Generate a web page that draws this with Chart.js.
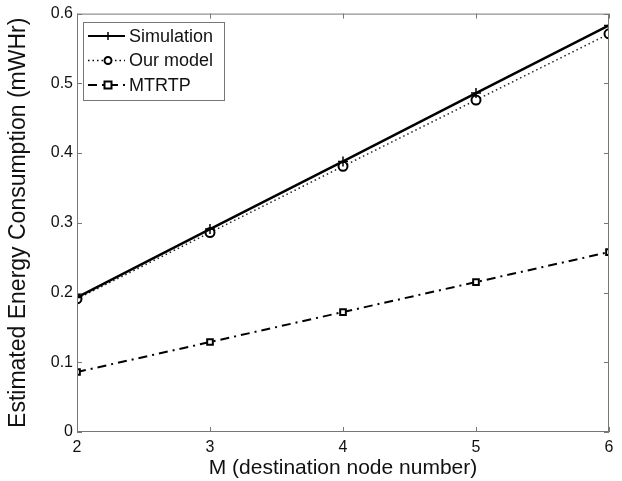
<!DOCTYPE html>
<html>
<head>
<meta charset="utf-8">
<script src="https://cdn.jsdelivr.net/npm/chart.js@4"></script>
<style>
  html, body { margin: 0; padding: 0; background: #fff; }
  #wrap { width: 622px; height: 481px; }
</style>
</head>
<body>
<div id="wrap"><canvas id="myChart" width="622" height="481"></canvas></div>
<script>
// data
let M = [2, 3, 4, 5, 6];
let simulation = [0.193, 0.291, 0.388, 0.486, 0.583];
let ourModel = [0.191, 0.286, 0.381, 0.476, 0.571];
let mtrtp = [0.086, 0.129, 0.172, 0.215, 0.258];
let xTicks = [2, 3, 4, 5, 6];
let yTicks = [0, 0.1, 0.2, 0.3, 0.4, 0.5, 0.6];

let FONT = "'Liberation Sans', Arial, sans-serif";
let AXIS = '#777';

function pts(ys) {
	return M.map(function (m, i) { return { x: m, y: ys[i] }; });
}

function marker(ctx, style, x, y) {
	ctx.save();
	ctx.strokeStyle = '#000';
	ctx.setLineDash([]);
	ctx.beginPath();
	if (style == 'cross') {
		ctx.lineWidth = 1.5;
		ctx.moveTo(x - 4, y); ctx.lineTo(x + 4, y);
		ctx.moveTo(x, y - 4); ctx.lineTo(x, y + 4);
		ctx.stroke();
	} else if (style == 'circle') {
		ctx.lineWidth = 2;
		ctx.fillStyle = '#fff';
		ctx.arc(x, y, 3.5, 0, Math.PI * 2);
		ctx.fill(); ctx.stroke();
	} else {
		ctx.lineWidth = 2;
		ctx.fillStyle = '#fff';
		ctx.rect(x - 3.5, y - 3.5, 7, 7);
		ctx.fill(); ctx.stroke();
	}
	ctx.restore();
}

// box, inward ticks on all four sides, legend inside the plot
let frame = {
	id: 'frame',
	afterDraw: function (chart) {
		let ctx = chart.ctx, a = chart.chartArea;
		let xs = chart.scales.x, ys = chart.scales.y;
		ctx.save();
		ctx.strokeStyle = AXIS;
		ctx.lineWidth = 1;
		ctx.strokeRect(a.left + 0.5, a.top + 0.5, a.right - a.left - 1, a.bottom - a.top - 1);
		ctx.beginPath();
		xTicks.forEach(function (v) {
			let px = Math.round(xs.getPixelForValue(v)) + 0.5;
			ctx.moveTo(px, a.bottom); ctx.lineTo(px, a.bottom - 5);
			ctx.moveTo(px, a.top); ctx.lineTo(px, a.top + 5);
		});
		yTicks.forEach(function (v) {
			let py = Math.round(ys.getPixelForValue(v)) + 0.5;
			ctx.moveTo(a.left, py); ctx.lineTo(a.left + 5, py);
			ctx.moveTo(a.right, py); ctx.lineTo(a.right - 5, py);
		});
		ctx.stroke();

		// legend
		let lx = 83, ly = 22, lw = 141, lh = 78;
		ctx.fillStyle = '#fff';
		ctx.fillRect(lx, ly, lw, lh);
		ctx.strokeStyle = AXIS;
		ctx.strokeRect(lx + 0.5, ly + 0.5, lw, lh);
		ctx.font = '18px ' + FONT;
		ctx.textBaseline = 'middle';
		chart.data.datasets.forEach(function (ds, i) {
			let y = 36 + i * 24.5;
			ctx.strokeStyle = '#000';
			ctx.lineWidth = Math.min(ds.borderWidth, 2);
			ctx.setLineDash(ds.borderDash || []);
			ctx.beginPath();
			ctx.moveTo(88, y); ctx.lineTo(125, y);
			ctx.stroke();
			marker(ctx, ds.pointStyle, 108, y);
			ctx.fillStyle = '#111';
			ctx.fillText(ds.label, 129, y + 1);
		});
		ctx.restore();
	}
};

let ctx = document.getElementById('myChart').getContext('2d');
let chart = new Chart(ctx, {
	type: 'line',
	data: {
		datasets: [{
			label: 'Simulation',
			data: pts(simulation),
			borderColor: '#000',
			borderWidth: 2.5,
			pointStyle: 'cross',
			pointRadius: 5,
			pointBorderWidth: 1.5,
			pointBorderColor: '#000'
		}, {
			label: 'Our model',
			data: pts(ourModel),
			borderColor: '#222',
			borderWidth: 1.5,
			borderDash: [1.5, 3],
			pointStyle: 'circle',
			pointRadius: 4.5,
			pointBorderWidth: 2,
			pointBorderColor: '#000',
			pointBackgroundColor: '#fff'
		}, {
			label: 'MTRTP',
			data: pts(mtrtp),
			borderColor: '#000',
			borderWidth: 2,
			borderDash: [9, 5, 2, 5],
			pointStyle: 'rect',
			pointRadius: 4,
			pointBorderWidth: 2,
			pointBorderColor: '#000',
			pointBackgroundColor: '#fff'
		}]
	},
	options: {
		responsive: false,
		animation: false,
		layout: { padding: { left: 0, right: 13, top: 13, bottom: 0 } },
		plugins: { legend: { display: false }, tooltip: { enabled: false } },
		scales: {
			x: {
				type: 'linear', min: 2, max: 6,
				afterBuildTicks: function (s) { s.ticks = xTicks.map(function (v) { return { value: v }; }); },
				afterFit: function (s) { s.height = 49; },
				grid: { display: false, drawTicks: false, tickLength: 0 },
				border: { display: false },
				ticks: { color: '#111', font: { family: FONT, size: 16 }, padding: 6 },
				title: { display: true, text: 'M (destination node number)', color: '#111', font: { family: FONT, size: 21 }, padding: { top: 0, bottom: 0 } }
			},
			y: {
				min: 0, max: 0.6,
				afterBuildTicks: function (s) { s.ticks = yTicks.map(function (v) { return { value: v }; }); },
				afterFit: function (s) { s.width = 77; },
				grid: { display: false, drawTicks: false, tickLength: 0 },
				border: { display: false },
				ticks: {
					color: '#111', font: { family: FONT, size: 16 }, padding: 4,
					callback: function (v) { return String(+v.toFixed(1)); }
				},
				title: { display: true, text: 'Estimated Energy Consumption (mWHr)', color: '#111', font: { family: FONT, size: 23 }, padding: { top: 5, bottom: 0 } }
			}
		}
	},
	plugins: [frame]
});
</script>
</body>
</html>
